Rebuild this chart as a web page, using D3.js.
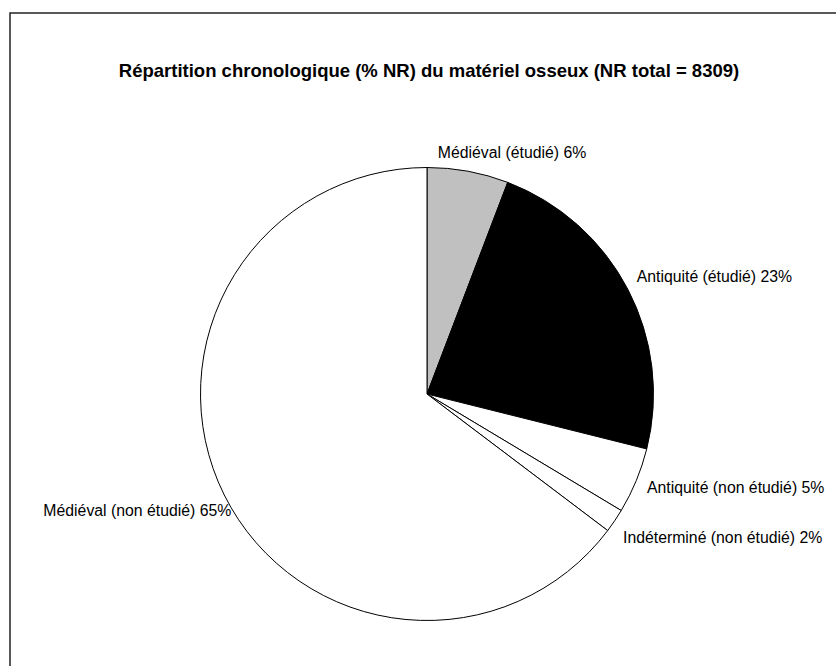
<!DOCTYPE html>
<html>
<head>
<meta charset="utf-8">
<script src="https://cdn.jsdelivr.net/npm/d3@7"></script>
<style>
  body { margin: 0; background: #fff; }
  text { font-family: "Liberation Sans", Arial, sans-serif; }
</style>
</head>
<body>
<div id="canvas"></div>
<script>
"use strict"

// chart data (percent of NR)
let categories = ["Médiéval (étudié)", "Antiquité (étudié)", "Antiquité (non étudié)",
    "Indéterminé (non étudié)", "Médiéval (non étudié)"]
let shares = [5.8, 23.1, 4.7, 1.7, 64.7]
let sliceColors = ["#c0c0c0", "#000000", "#ffffff", "#ffffff", "#ffffff"]
let title = "Répartition chronologique (% NR) du matériel osseux (NR total = 8309)"

let width = 836
let height = 666

let drawing = d3.select("#canvas")
    .append("svg")
    .attr("width", width)
    .attr("height", height)

// chart area border (runs off the right and bottom of the picture)
let border = drawing.append("rect")
    .attr("x", 10)
    .attr("y", 13)
    .attr("width", width)
    .attr("height", height)
    .attr("fill", "white")
    .attr("stroke", "#222")
    .attr("stroke-width", 1.5)

let chartTitle = drawing.append("text")
    .attr("x", 429)
    .attr("y", 77)
    .attr("text-anchor", "middle")
    .attr("font-size", 18.5)
    .attr("font-weight", "bold")
    .text(title)

let cx = 427
let cy = 394
let radius = 226.5

let pie = d3.pie().sort(null).value(d => d)
let arcs = pie(shares)

let arc = d3.arc().innerRadius(0).outerRadius(radius)
let labelArc = d3.arc().innerRadius(radius + 10).outerRadius(radius + 10)

let pieGroup = drawing.append("g")
    .attr("transform", `translate(${cx},${cy})`)

pieGroup.selectAll("path")
    .data(arcs)
    .join("path")
    .attr("d", arc)
    .attr("fill", (d, i) => sliceColors[i])
    .attr("stroke", "#000")
    .attr("stroke-width", 1)

// Excel-like label placement: anchor at the slice's mid angle, then small nudges
let nudges = [[-32, -9], [0, -8], [1.5, 3], [0, 11], [16, 11]]

pieGroup.selectAll("text.label")
    .data(arcs)
    .join("text")
    .attr("class", "label")
    .attr("x", (d, i) => labelArc.centroid(d)[0] + nudges[i][0])
    .attr("y", (d, i) => labelArc.centroid(d)[1] + nudges[i][1])
    .attr("dy", "0.35em")
    .attr("text-anchor", d => ((d.startAngle + d.endAngle) / 2 > Math.PI ? "end" : "start"))
    .attr("font-size", 15.8)
    .attr("fill", "#000")
    .text((d, i) => categories[i] + " " + Math.round(d.value) + "%")
</script>
</body>
</html>
